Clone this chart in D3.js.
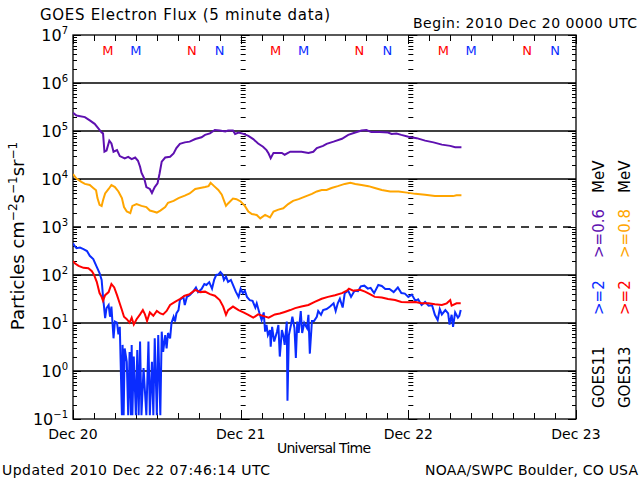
<!DOCTYPE html>
<html><head><meta charset="utf-8">
<script src="https://cdn.jsdelivr.net/npm/d3@7"></script>
<style>
html,body{margin:0;padding:0;background:#fff;}
svg{display:block;font-family:"DejaVu Sans","Liberation Sans",sans-serif;}
</style></head>
<body><svg id="c" width="640" height="480"></svg>
<script>
// ---------------- data (hours after 2010 Dec 20 00:00 UTC) ----------------
const startDate = new Date(Date.UTC(2010, 11, 20, 0, 0));
const dayLabels = ["Dec 20", "Dec 21", "Dec 22", "Dec 23"];
const yTickExponents = [-1, 0, 1, 2, 3, 4, 5, 6, 7];

// GOES11 >=0.6 MeV (purple)
const hoursG11lo = [0,0.5,1.7,2.4,3.1,3.6,4.1,4.3,4.5,4.8,5.2,5.5,5.8,6.3,6.7,7.4,7.9,8.4,8.9,9.3,9.6,9.8,10.2,10.5,11.0,11.3,11.7,12.1,12.4,12.7,13.2,13.9,14.4,14.8,15.3,16.0,16.7,17.5,18.4,18.9,19.6,20.3,21.0,21.8,22.2,22.9,23.2,23.7,24.4,25.1,25.8,26.5,27.2,27.7,28.0,28.3,28.7,29.9,30.3,31.1,32.7,33.7,34.4,34.9,35.8,36.3,37.3,38.5,39.4,40.4,41.3,42.0,42.7,43.9,45.1,45.6,46.3,47.0,48.0,49.2,50.4,51.6,52.8,54.0,54.7,55.6];
const fluxG11lo = [2.4e5,2.1e5,1.95e5,1.66e5,1.41e5,1.15e5,9.3e4,8.9e4,3.7e4,3.9e4,6.3e4,5.5e4,3.7e4,4.0e4,3.0e4,2.7e4,2.9e4,2.6e4,2.8e4,2.4e4,1.8e4,1.35e4,1.02e4,6.8e3,6.2e3,5.1e3,6.8e3,8.1e3,1.32e4,2.3e4,2.8e4,2.9e4,3.4e4,4.4e4,5.4e4,5.8e4,6.0e4,6.8e4,7.4e4,8.3e4,8.9e4,1.05e5,1.02e5,9.8e4,1.02e5,1.02e5,8.7e4,9.3e4,8.7e4,7.9e4,6.8e4,5.5e4,4.7e4,4.0e4,3.4e4,2.7e4,3.5e4,3.5e4,3.2e4,3.7e4,3.7e4,3.5e4,3.7e4,4.4e4,4.9e4,5.4e4,6.0e4,6.9e4,8.3e4,9.3e4,1.02e5,1.05e5,9.5e4,9.5e4,9.3e4,8.7e4,8.9e4,8.3e4,7.6e4,7.1e4,6.3e4,5.8e4,5.2e4,4.9e4,4.6e4,4.6e4];

// GOES13 >=0.8 MeV (orange)
const hoursG13lo = [0,0.5,1.2,1.7,2.4,2.9,3.3,3.5,3.8,4.1,4.3,4.6,5.1,5.5,6.0,6.5,7.0,7.3,7.7,8.2,8.5,9.1,9.8,10.5,11.0,11.5,12.0,12.5,13.2,13.6,14.4,15.1,16.0,16.7,17.5,18.2,18.9,19.4,19.7,20.2,20.8,21.3,21.6,21.9,22.2,22.9,23.4,24.0,24.6,25.1,25.6,26.3,26.8,27.5,28.2,28.7,29.4,30.1,30.8,31.5,32.3,33.2,34.2,34.9,35.6,36.3,37.0,37.9,38.9,39.7,40.4,41.3,42.3,43.2,44.2,45.4,46.6,47.8,49.0,50.4,51.8,53.3,54.4,54.9,55.6];
const fluxG13lo = [1.26e4,1.02e4,8.7e3,7.9e3,7.5e3,6.5e3,5.8e3,4.0e3,2.9e3,2.75e3,3.6e3,5.0e3,6.2e3,7.5e3,6.8e3,5.5e3,4.0e3,2.6e3,2.1e3,1.95e3,2.75e3,3.0e3,2.75e3,2.6e3,2.2e3,2.1e3,2.0e3,2.2e3,2.6e3,3.2e3,3.5e3,4.0e3,4.5e3,5.0e3,6.2e3,6.5e3,6.8e3,7.1e3,8.3e3,7.1e3,5.9e3,4.7e3,3.6e3,2.75e3,3.1e3,3.9e3,3.8e3,3.4e3,2.75e3,2.1e3,1.86e3,1.78e3,1.51e3,1.78e3,1.58e3,2.1e3,2.3e3,2.45e3,3.0e3,3.5e3,3.8e3,4.3e3,4.9e3,5.5e3,5.9e3,5.9e3,6.5e3,7.1e3,7.9e3,8.3e3,7.9e3,7.5e3,7.1e3,6.5e3,5.9e3,5.5e3,5.5e3,5.2e3,4.9e3,4.7e3,4.4e3,4.4e3,4.4e3,4.6e3,4.6e3];

// GOES11 >=2 MeV (blue)
const hoursG11hi = [0,0.2,0.5,1.0,1.5,2.0,2.4,2.9,3.4,3.8,4.1,4.3,4.6,4.8,5.1,5.3,5.5,5.8,6.0,6.3,6.5,6.7,7.0,7.1,7.25,7.4,7.7,7.9,8.1,8.3,8.4,8.5,8.7,9.0,9.2,9.4,9.6,9.8,10.1,10.5,10.8,11.0,11.3,11.5,11.7,12.0,12.2,12.5,12.7,12.9,13.2,13.4,13.6,13.9,14.1,14.4,14.6,14.8,15.1,15.3,15.8,16.0,16.3,16.7,17.2,17.6,17.9,18.4,18.8,19.1,19.5,19.9,20.2,20.5,20.8,21.1,21.4,21.6,21.9,22.2,22.6,22.9,23.3,23.7,24.0,24.3,24.6,24.9,25.3,25.7,26.1,26.3,26.7,27.0,27.3,27.5,27.7,27.9,28.2,28.3,28.5,28.8,29.2,29.4,29.6,29.9,30.1,30.3,30.6,30.7,30.9,31.2,31.4,31.7,31.9,32.1,32.3,32.6,32.8,33.1,33.5,33.7,33.9,34.2,34.5,34.9,35.1,35.5,35.8,36.3,36.8,37.3,37.6,37.9,38.2,38.6,38.9,39.4,39.8,40.3,40.8,41.2,41.7,42.2,42.6,43.1,43.7,44.2,44.7,45.3,45.9,46.5,47.0,47.5,48.0,48.5,49.0,49.4,49.9,50.4,50.9,51.4,51.8,52.2,52.5,52.8,53.3,53.7,53.9,54.2,54.4,54.7,55.1,55.3,55.5];
const fluxG11hi = [457,407,363,372,347,316,251,214,148,110,79,35,12.6,20.4,23.7,13.5,22,4.8,10.7,10.2,5.8,8.3,0.12,3.5,0.12,2.95,1.55,0.12,2.5,0.12,3.5,0.12,2.0,0.12,2.75,0.12,4.1,0.12,1.15,0.12,4.1,0.12,1.55,0.12,4.8,0.12,5.6,0.12,6.6,2.5,5.6,2.95,6.2,4.8,10,13.5,10.7,15.8,18.6,30,35,23.7,35,38,45,55,44,51,65,62,71,52,79,100,102,115,102,79,93,72,79,62,45,35,52,42,47,35,30,29,21,25.7,15.8,11.5,16.6,6.6,9.1,5.6,7.1,3.2,8.3,4.1,6.6,9.1,2.0,7.1,5.6,3.5,10.7,0.24,5.6,9.1,13.5,7.8,1.86,10.7,6.2,17.8,6.2,10,7.8,14.8,2.3,11,11,13.5,17.8,14.8,18.6,19.5,22,25.7,17.8,25.7,32,21,42,47,35,47,46,58,60,52,54,42,62,59,51,51,44,55,42,41,35,39,29,31,23.7,27.5,23,23.4,14.8,11.5,19.5,15.1,18.6,15.8,9.3,14.8,8.3,16.6,12.9,14.1,18.6];

// GOES13 >=2 MeV (red)
const hoursG13hi = [0,0.3,0.8,1.5,2.2,2.7,3.0,3.4,3.8,4.1,4.3,4.6,5.1,5.5,5.9,6.3,6.6,7.0,7.3,7.7,8.1,8.4,8.7,9.1,9.6,10.0,10.3,10.6,11.0,11.5,12.0,12.5,12.9,13.4,13.9,14.6,15.3,16.0,16.7,17.5,18.2,18.9,19.6,20.3,21.0,21.5,21.9,22.2,22.9,23.7,24.4,25.1,25.8,26.5,27.2,28.0,28.9,29.6,30.3,31.1,31.8,32.7,33.7,34.6,35.6,36.5,37.5,38.5,39.2,39.5,40.1,41.1,41.8,42.5,43.2,44.2,45.1,46.1,47.0,48.0,49.0,49.9,50.9,51.8,52.8,53.5,54.0,54.2,54.9,55.5];
const fluxG13hi = [195,174,155,141,138,120,102,72,42,35,29,38,44,65,55,38,28,18.6,13.5,12.0,10.2,12.9,9.3,12.0,15.1,18.6,15.1,11.0,16.6,14.1,17.8,15.8,15.1,17.8,23.7,27.5,31.6,37,40,49,44,45,40,37,30,22,14.8,18.6,22,18.6,16.6,14.8,12.9,15.1,14.1,12.9,15.1,15.8,17.0,18.6,20.4,22,23.7,27.5,32,35,38,42,47,52,47,49,45,40,35,34,31.6,30,27.5,27,27.5,25.7,25.7,24.5,23.7,25.7,30,23,25.7,25.7];

// local midnight (M) / noon (N) markers, hour of day UT
const markerHours = [5, 9, 17, 21];
const markerLabels = ["M", "M", "N", "N"];
const markerSat = ["GOES13", "GOES11", "GOES13", "GOES11"];

// ---------------- drawing ----------------
const colors = {G11lo:"#5e10b0", G13lo:"#ffa500", G11hi:"#0a2cff", G13hi:"#ff0000"};
const satColor = {GOES13:"#ff0000", GOES11:"#0a2cff"};

const svg = d3.select("#c");
const L = 73, R = 576, T = 35, B = 419;
const toDate = h => new Date(startDate.getTime() + h * 3600e3);
const x = d3.scaleUtc().domain([startDate, toDate(72)]).range([L, R]);
const y = d3.scaleLog().domain([0.1, 1e7]).range([B, T]);

svg.append("defs").append("clipPath").attr("id","pc")
  .append("rect").attr("x",L).attr("y",T).attr("width",R-L).attr("height",B-T);

// gridlines
const gridG = svg.append("g");
yTickExponents.filter(e => e > -1 && e < 7).forEach(e => {
  gridG.append("line").attr("x1",L).attr("x2",R).attr("y1",y(Math.pow(10,e))).attr("y2",y(Math.pow(10,e)))
    .attr("stroke","#000").attr("stroke-width",1.3)
    .attr("stroke-dasharray", e === 3 ? "8,6" : null);
});

// minor log ticks helper
const minorVals = [];
yTickExponents.slice(0,-1).forEach(e => { for (let m = 2; m <= 9; m++) minorVals.push(m*Math.pow(10,e)); });

function tickColumn(x0, dir, len) {
  const g = svg.append("g").attr("stroke","#000").attr("stroke-width",1);
  minorVals.forEach(v => {
    const yy = Math.round(y(v)) + 0.5;
    g.append("line").attr("x1",x0).attr("x2",x0+dir*len).attr("y1",yy).attr("y2",yy);
  });
  yTickExponents.forEach(e => {
    const yy = Math.round(y(Math.pow(10,e))) + 0.5;
    g.append("line").attr("x1",x0).attr("x2",x0+dir*(len+4)).attr("y1",yy).attr("y2",yy);
  });
}
tickColumn(L, 1, 4);
tickColumn(R, -1, 4);
[1,2].forEach(d => tickColumn(x(toDate(24*d)), 1, 5));

// x ticks (every 3 h)
const xg = svg.append("g").attr("stroke","#000").attr("stroke-width",1);
d3.range(0, 73, 3).forEach(h => {
  const xx = Math.round(x(toDate(h))) + 0.5;
  const len = h % 24 === 0 ? 9 : 6;
  xg.append("line").attr("x1",xx).attr("x2",xx).attr("y1",B).attr("y2",B-len);
  xg.append("line").attr("x1",xx).attr("x2",xx).attr("y1",T).attr("y2",T+len);
});

// frame
svg.append("rect").attr("x",L).attr("y",T).attr("width",R-L).attr("height",B-T)
  .attr("fill","none").attr("stroke","#000").attr("stroke-width",1.3);

// data lines
const line = d3.line().x(d => x(toDate(d[0]))).y(d => y(Math.max(0.12, d[1])));
const series = [
  [hoursG11hi, fluxG11hi, colors.G11hi],
  [hoursG13hi, fluxG13hi, colors.G13hi],
  [hoursG11lo, fluxG11lo, colors.G11lo],
  [hoursG13lo, fluxG13lo, colors.G13lo]
];
const dg = svg.append("g").attr("clip-path","url(#pc)");
series.forEach(([hs, vs, c]) => {
  dg.append("path").datum(hs.map((h,i) => [h, vs[i]]))
    .attr("d", line).attr("fill","none").attr("stroke",c).attr("stroke-width",2)
    .attr("stroke-linejoin","miter");
});

// M / N markers
for (let d = 0; d < 3; d++) {
  markerHours.forEach((h,i) => {
    svg.append("text").attr("x", x(toDate(24*d + h))).attr("y", 55)
      .attr("text-anchor","middle").attr("font-size",13).attr("fill", satColor[markerSat[i]])
      .text(markerLabels[i]);
  });
}

// y tick labels
yTickExponents.forEach(e => {
  const t = svg.append("text").attr("x", 68).attr("y", y(Math.pow(10,e)) + 6)
    .attr("text-anchor","end").attr("font-size",16);
  t.append("tspan").text("10");
  t.append("tspan").attr("dy",-7).attr("font-size",10).text(e < 0 ? "\u2212" + Math.abs(e) : String(e));
});

// x labels
dayLabels.forEach((lab,i) => {
  svg.append("text").attr("x", x(toDate(24*i))).attr("y", 439).attr("text-anchor","middle")
    .attr("font-size",14).text(lab);
});
svg.append("text").attr("x",324).attr("y",453).attr("text-anchor","middle").attr("font-size",14)
  .attr("textLength",94).text("Universal Time");

// titles
svg.append("text").attr("x",40).attr("y",20).attr("font-size",15).attr("textLength",290).text("GOES Electron Flux (5 minute data)");
svg.append("text").attr("x",413).attr("y",28).attr("font-size",14).attr("textLength",224).text("Begin: 2010 Dec 20 0000 UTC");
svg.append("text").attr("x",2).attr("y",475).attr("font-size",14).attr("textLength",268).text("Updated 2010 Dec 22 07:46:14 UTC");
svg.append("text").attr("x",425).attr("y",475).attr("font-size",14).attr("textLength",213).text("NOAA/SWPC Boulder, CO USA");

// y axis title
const yt = svg.append("text").attr("transform","translate(24,236) rotate(-90)").attr("text-anchor","middle").attr("font-size",18);
yt.append("tspan").text("Particles cm");
yt.append("tspan").attr("dy",-7).attr("font-size",12).text("\u22122");
yt.append("tspan").attr("dy",7).text("s");
yt.append("tspan").attr("dy",-7).attr("font-size",12).text("\u22121");
yt.append("tspan").attr("dy",7).text("sr");
yt.append("tspan").attr("dy",-7).attr("font-size",12).text("\u22121");

// right legend (rotated)
function vtext(xb, yb, txt, col) {
  svg.append("text").attr("transform",`translate(${xb},${yb}) rotate(-90)`).attr("font-size",15)
    .attr("fill",col).text(txt);
}
const legendCols = [
  {x:604, sat:"GOES11", hi:">=2", lo:">=0.6", hiC:colors.G11hi, loC:colors.G11lo},
  {x:630, sat:"GOES13", hi:">=2", lo:">=0.8", hiC:colors.G13hi, loC:colors.G13lo}
];
legendCols.forEach(c => {
  vtext(c.x, 408, c.sat, "#000");
  vtext(c.x, 315, c.hi, c.hiC);
  vtext(c.x, 258, c.lo, c.loC);
  vtext(c.x, 193, "MeV", "#000");
});
</script></body></html>
